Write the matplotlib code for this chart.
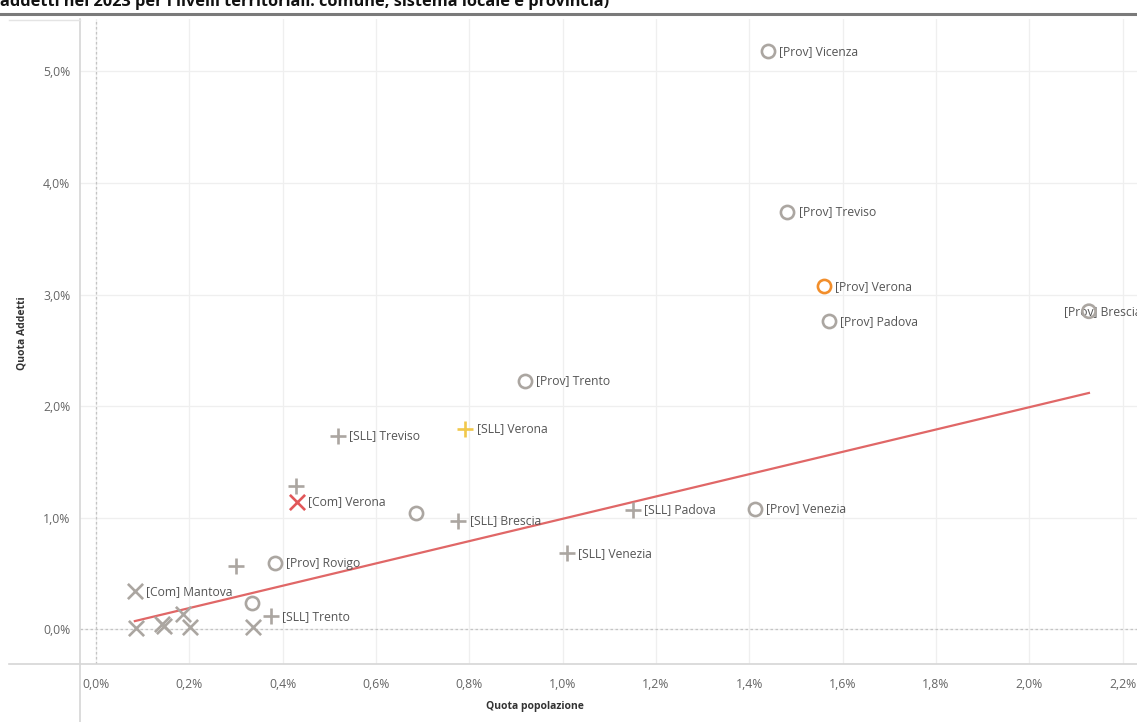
import matplotlib
matplotlib.use("Agg")
import matplotlib.pyplot as plt
from matplotlib.lines import Line2D
from matplotlib.ticker import FuncFormatter, MultipleLocator

plt.rcParams['font.family'] = ['Open Sans', 'DejaVu Sans']

# ---- data (values in %) ----
prov_labels = ["[Prov] Vicenza", "[Prov] Treviso", "[Prov] Verona", "[Prov] Padova",
               "[Prov] Brescia", "[Prov] Trento", "[Prov] Venezia", "[Prov] Rovigo", "", ""]
prov_x = [1.441, 1.482, 1.561, 1.570, 2.128, 0.919, 1.413, 0.383, 0.685, 0.334]
prov_y = [5.180, 3.741, 3.076, 2.761, 2.851, 2.230, 1.079, 0.594, 1.043, 0.234]

sll_labels = ["[SLL] Treviso", "[SLL] Verona", "[SLL] Brescia", "[SLL] Padova",
              "[SLL] Venezia", "[SLL] Trento", "", ""]
sll_x = [0.518, 0.792, 0.777, 1.150, 1.009, 0.375, 0.428, 0.300]
sll_y = [1.736, 1.799, 0.971, 1.070, 0.683, 0.117, 1.286, 0.567]

com_labels = ["[Com] Verona", "[Com] Mantova", "", "", "", "", "", ""]
com_x = [0.430, 0.0835, 0.086, 0.141, 0.146, 0.186, 0.201, 0.336]
com_y = [1.142, 0.342, 0.009, 0.045, 0.030, 0.135, 0.018, 0.018]

highlight = {"[Prov] Verona": "#F28E2B", "[SLL] Verona": "#F1C84B", "[Com] Verona": "#E15759"}

trend_slope = 1.0
trend_intercept = -0.009
trend_x = [0.0835, 2.128]

title_text = "addetti nel 2023 per i livelli territoriali: comune, sistema locale e provincia)"
x_title = "Quota popolazione"
y_title = "Quota Addetti"

W, H = 1137, 722
fig = plt.figure(figsize=(W / 100, H / 100), dpi=100)
ax = fig.add_axes([80 / W, 1 - 664 / H, 1 - 80 / W, (664 - 19) / H])

ax.set_xlim(-0.034, 2.231)
ax.set_ylim(-0.31, 5.47)

GRAY = "#ABA6A1"
for s in ax.spines.values():
    s.set_visible(False)

ax.xaxis.set_major_locator(MultipleLocator(0.2))
ax.yaxis.set_major_locator(MultipleLocator(1.0))
fmt = FuncFormatter(lambda v, p: f"{v:.1f}%".replace(".", ","))
ax.xaxis.set_major_formatter(fmt)
ax.yaxis.set_major_formatter(fmt)
ax.tick_params(axis='both', length=0, labelsize=8.8, labelcolor="#666666")
ax.tick_params(axis='x', pad=10)
ax.tick_params(axis='y', pad=7)
ax.grid(True, color="#EFEFEF", lw=0.9)
ax.set_axisbelow(True)
ax.axhline(0, color="#C4C4C4", lw=0.9, ls=(0, (2, 2)), zorder=1)
ax.axvline(0, color="#C4C4C4", lw=0.9, ls=(0, (2, 2)), zorder=1)

# trend line
tx = trend_x
ty = [trend_slope * v + trend_intercept for v in tx]
ax.plot(tx, ty, color="#E06767", lw=1.6, zorder=2)

lab_kw = dict(fontsize=8.7, color="#555555", va='center', ha='left', zorder=5)

def draw(xs, ys, labels, marker):
    for xv, yv, lb in zip(xs, ys, labels):
        c = highlight.get(lb, GRAY)
        if marker == 'o':
            ax.scatter([xv], [yv], s=90, facecolors='white', edgecolors=c, linewidths=1.9, zorder=4)
        else:
            ax.scatter([xv], [yv], s=120, marker=marker, color=c, linewidths=1.9, zorder=4)
        if lb:
            ax.annotate(lb, (xv, yv), xytext=(8, 0), textcoords='offset points',
                        annotation_clip=False, clip_on=True, **lab_kw)

draw(prov_x[:4] + prov_x[5:], prov_y[:4] + prov_y[5:], prov_labels[:4] + prov_labels[5:], 'o')
# Brescia: label shifted left and overlapping its marker, cut by the edge
ax.scatter([prov_x[4]], [prov_y[4]], s=90, facecolors='none', edgecolors=GRAY, linewidths=1.9, zorder=6)
ax.annotate(prov_labels[4], (prov_x[4], prov_y[4]), xytext=(-18, 0), textcoords='offset points',
            clip_on=True, **lab_kw)
draw(sll_x, sll_y, sll_labels, '+')
draw(com_x, com_y, com_labels, 'x')

fig.text(535 / W, 1 - 707 / H, x_title, ha='center', va='center', fontsize=7.5,
         fontweight='bold', color="#333333")
fig.text(22 / W, 1 - 333 / H, y_title, ha='center', va='center', rotation=90,
         fontsize=7.5, fontweight='bold', color="#333333")

# title (cut at top, as in the source) and separator line
fig.text(0, 1 - 6 / H, title_text, ha='left', va='baseline', fontsize=11.8,
         fontweight='bold', color="#111111")
fig.add_artist(Line2D([0, 1], [1 - 13.5 / H, 1 - 13.5 / H], color="#7A7A7A", lw=2.2,
                      transform=fig.transFigure))
# panel borders
fig.add_artist(Line2D([80 / W, 80 / W], [0, 1 - 19 / H], color="#D6D6D6", lw=1.2,
                      transform=fig.transFigure))
fig.add_artist(Line2D([9 / W, 1], [1 - 664 / H, 1 - 664 / H], color="#D6D6D6", lw=1.2,
                      transform=fig.transFigure))
fig.add_artist(Line2D([9 / W, 80 / W], [1 - 20 / H, 1 - 20 / H], color="#E4E4E4", lw=1,
                      transform=fig.transFigure))

fig.savefig("out.png", dpi=100)
